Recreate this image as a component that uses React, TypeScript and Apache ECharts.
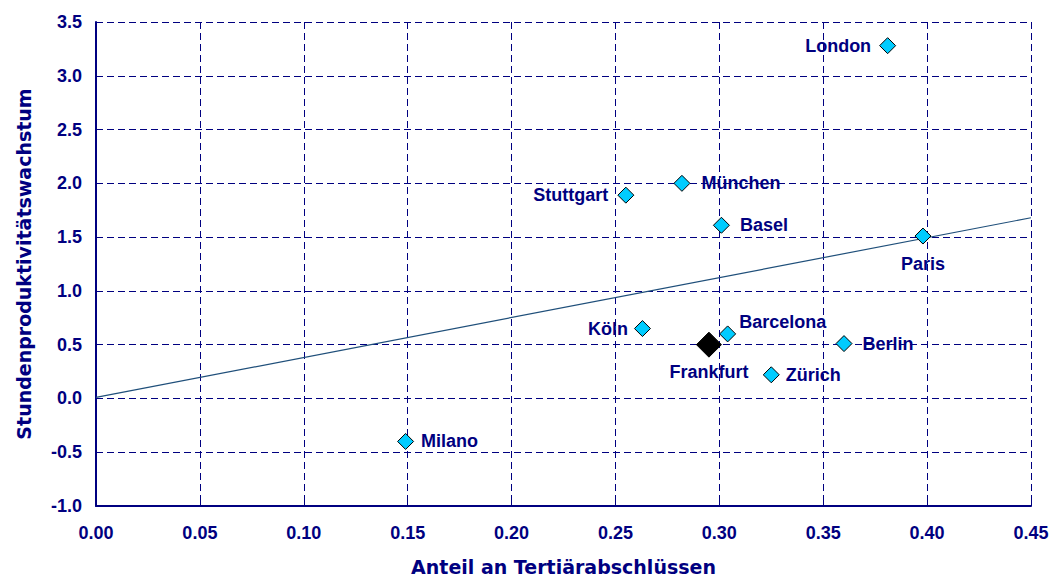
import React, { useEffect, useRef } from "react";
import * as echarts from "echarts";

// ---- data ----
const cities = ["London", "München", "Stuttgart", "Basel", "Paris", "Köln", "Barcelona", "Berlin", "Zürich", "Milano"];
const tertiaryShare = [0.381, 0.282, 0.255, 0.301, 0.398, 0.263, 0.304, 0.36, 0.325, 0.149];
const productivityGrowth = [3.28, 2.0, 1.89, 1.61, 1.51, 0.65, 0.6, 0.51, 0.22, -0.4];
const highlightCity = "Frankfurt";
const highlightShare = 0.295;
const highlightGrowth = 0.5;
const trendShare = [0, 0.45];
const trendGrowth = [0.01, 1.68];

const NAVY = "#000080";
const FONT = "'Liberation Sans', Arial, sans-serif";
const TITLE_FONT = "'DejaVu Sans', 'Liberation Sans', sans-serif";

// label placement (style only)
const labelPlacement: Record<string, { position: string; distance: number; offset?: number[] }> = {
  London: { position: "left", distance: 8 },
  "München": { position: "right", distance: 11 },
  Stuttgart: { position: "left", distance: 9 },
  Basel: { position: "right", distance: 10 },
  Paris: { position: "bottom", distance: 10 },
  "Köln": { position: "left", distance: 6 },
  Barcelona: { position: "right", distance: 3, offset: [0, -12] },
  Berlin: { position: "right", distance: 10 },
  "Zürich": { position: "right", distance: 6 },
  Milano: { position: "right", distance: 7 },
};

export default function App() {
  const ref = useRef<HTMLDivElement>(null);
  useEffect(() => {
    if (!ref.current) return;
    const chart = echarts.init(ref.current, undefined, { renderer: "svg" });
    const labelStyle = {
      color: NAVY,
      opacity: 1,
      fontFamily: FONT,
      fontWeight: "bold",
      fontSize: 18,
    };
    const cityData = cities.map((name, i) => {
      const p = labelPlacement[name];
      return {
        name,
        value: [tertiaryShare[i], productivityGrowth[i]],
        label: {
          show: true,
          formatter: name,
          position: p.position,
          distance: p.distance,
          offset: p.offset,
          ...labelStyle,
        },
      };
    });
    chart.setOption({
      animation: false,
      backgroundColor: "#ffffff",
      grid: { left: 96, right: 22, top: 22, bottom: 74, containLabel: false },
      xAxis: {
        type: "value",
        min: 0,
        max: 0.45,
        interval: 0.05,
        name: "Anteil an Tertiärabschlüssen",
        nameLocation: "middle",
        nameGap: 51,
        nameTextStyle: { color: NAVY, fontFamily: TITLE_FONT, fontWeight: "bold", fontSize: 19 },
        axisLine: { show: true, onZero: false, lineStyle: { color: NAVY, width: 2 } },
        axisTick: { show: true, inside: true, length: 5, lineStyle: { color: NAVY, width: 1 } },
        axisLabel: {
          color: NAVY,
          fontFamily: FONT,
          fontWeight: "bold",
          fontSize: 18,
          margin: 18,
          formatter: (v: number) => v.toFixed(2),
        },
        splitLine: { show: true, lineStyle: { color: NAVY, width: 1, type: [7, 4] } },
      },
      yAxis: {
        type: "value",
        min: -1,
        max: 3.5,
        interval: 0.5,
        name: "Stundenproduktivitätswachstum",
        nameLocation: "middle",
        nameGap: 63,
        nameRotate: 90,
        nameTextStyle: { color: NAVY, fontFamily: TITLE_FONT, fontWeight: "bold", fontSize: 19 },
        axisLine: { show: true, onZero: false, lineStyle: { color: NAVY, width: 2 } },
        axisTick: { show: true, inside: true, length: 5, lineStyle: { color: NAVY, width: 1 } },
        axisLabel: {
          color: NAVY,
          fontFamily: FONT,
          fontWeight: "bold",
          fontSize: 18,
          margin: 14,
          formatter: (v: number) => v.toFixed(1),
        },
        splitLine: { show: true, lineStyle: { color: NAVY, width: 1, type: [7, 4] } },
      },
      series: [
        {
          type: "line",
          data: trendShare.map((x, i) => [x, trendGrowth[i]]),
          showSymbol: false,
          symbol: "none",
          lineStyle: { color: "#1f4f7a", width: 1.2 },
          z: 2,
          silent: true,
        },
        {
          type: "scatter",
          data: cityData,
          symbol: "diamond",
          symbolSize: 16,
          itemStyle: { color: "#00CCFF", borderColor: "#000000", borderWidth: 1, opacity: 1 },
          z: 3,
        },
        {
          type: "scatter",
          data: [
            {
              name: highlightCity,
              value: [highlightShare, highlightGrowth],
              label: {
                show: true,
                formatter: highlightCity,
                position: "bottom",
                distance: 5,
                ...labelStyle,
              },
            },
          ],
          symbol: "diamond",
          symbolSize: 25,
          itemStyle: { color: "#000000", borderColor: "#000000", borderWidth: 1, opacity: 1 },
          z: 4,
        },
      ],
    });
    return () => chart.dispose();
  }, []);
  return (
    <div
      ref={ref}
      style={{ position: "absolute", left: 0, top: 0, width: 1053, height: 581, background: "#fff" }}
    />
  );
}
